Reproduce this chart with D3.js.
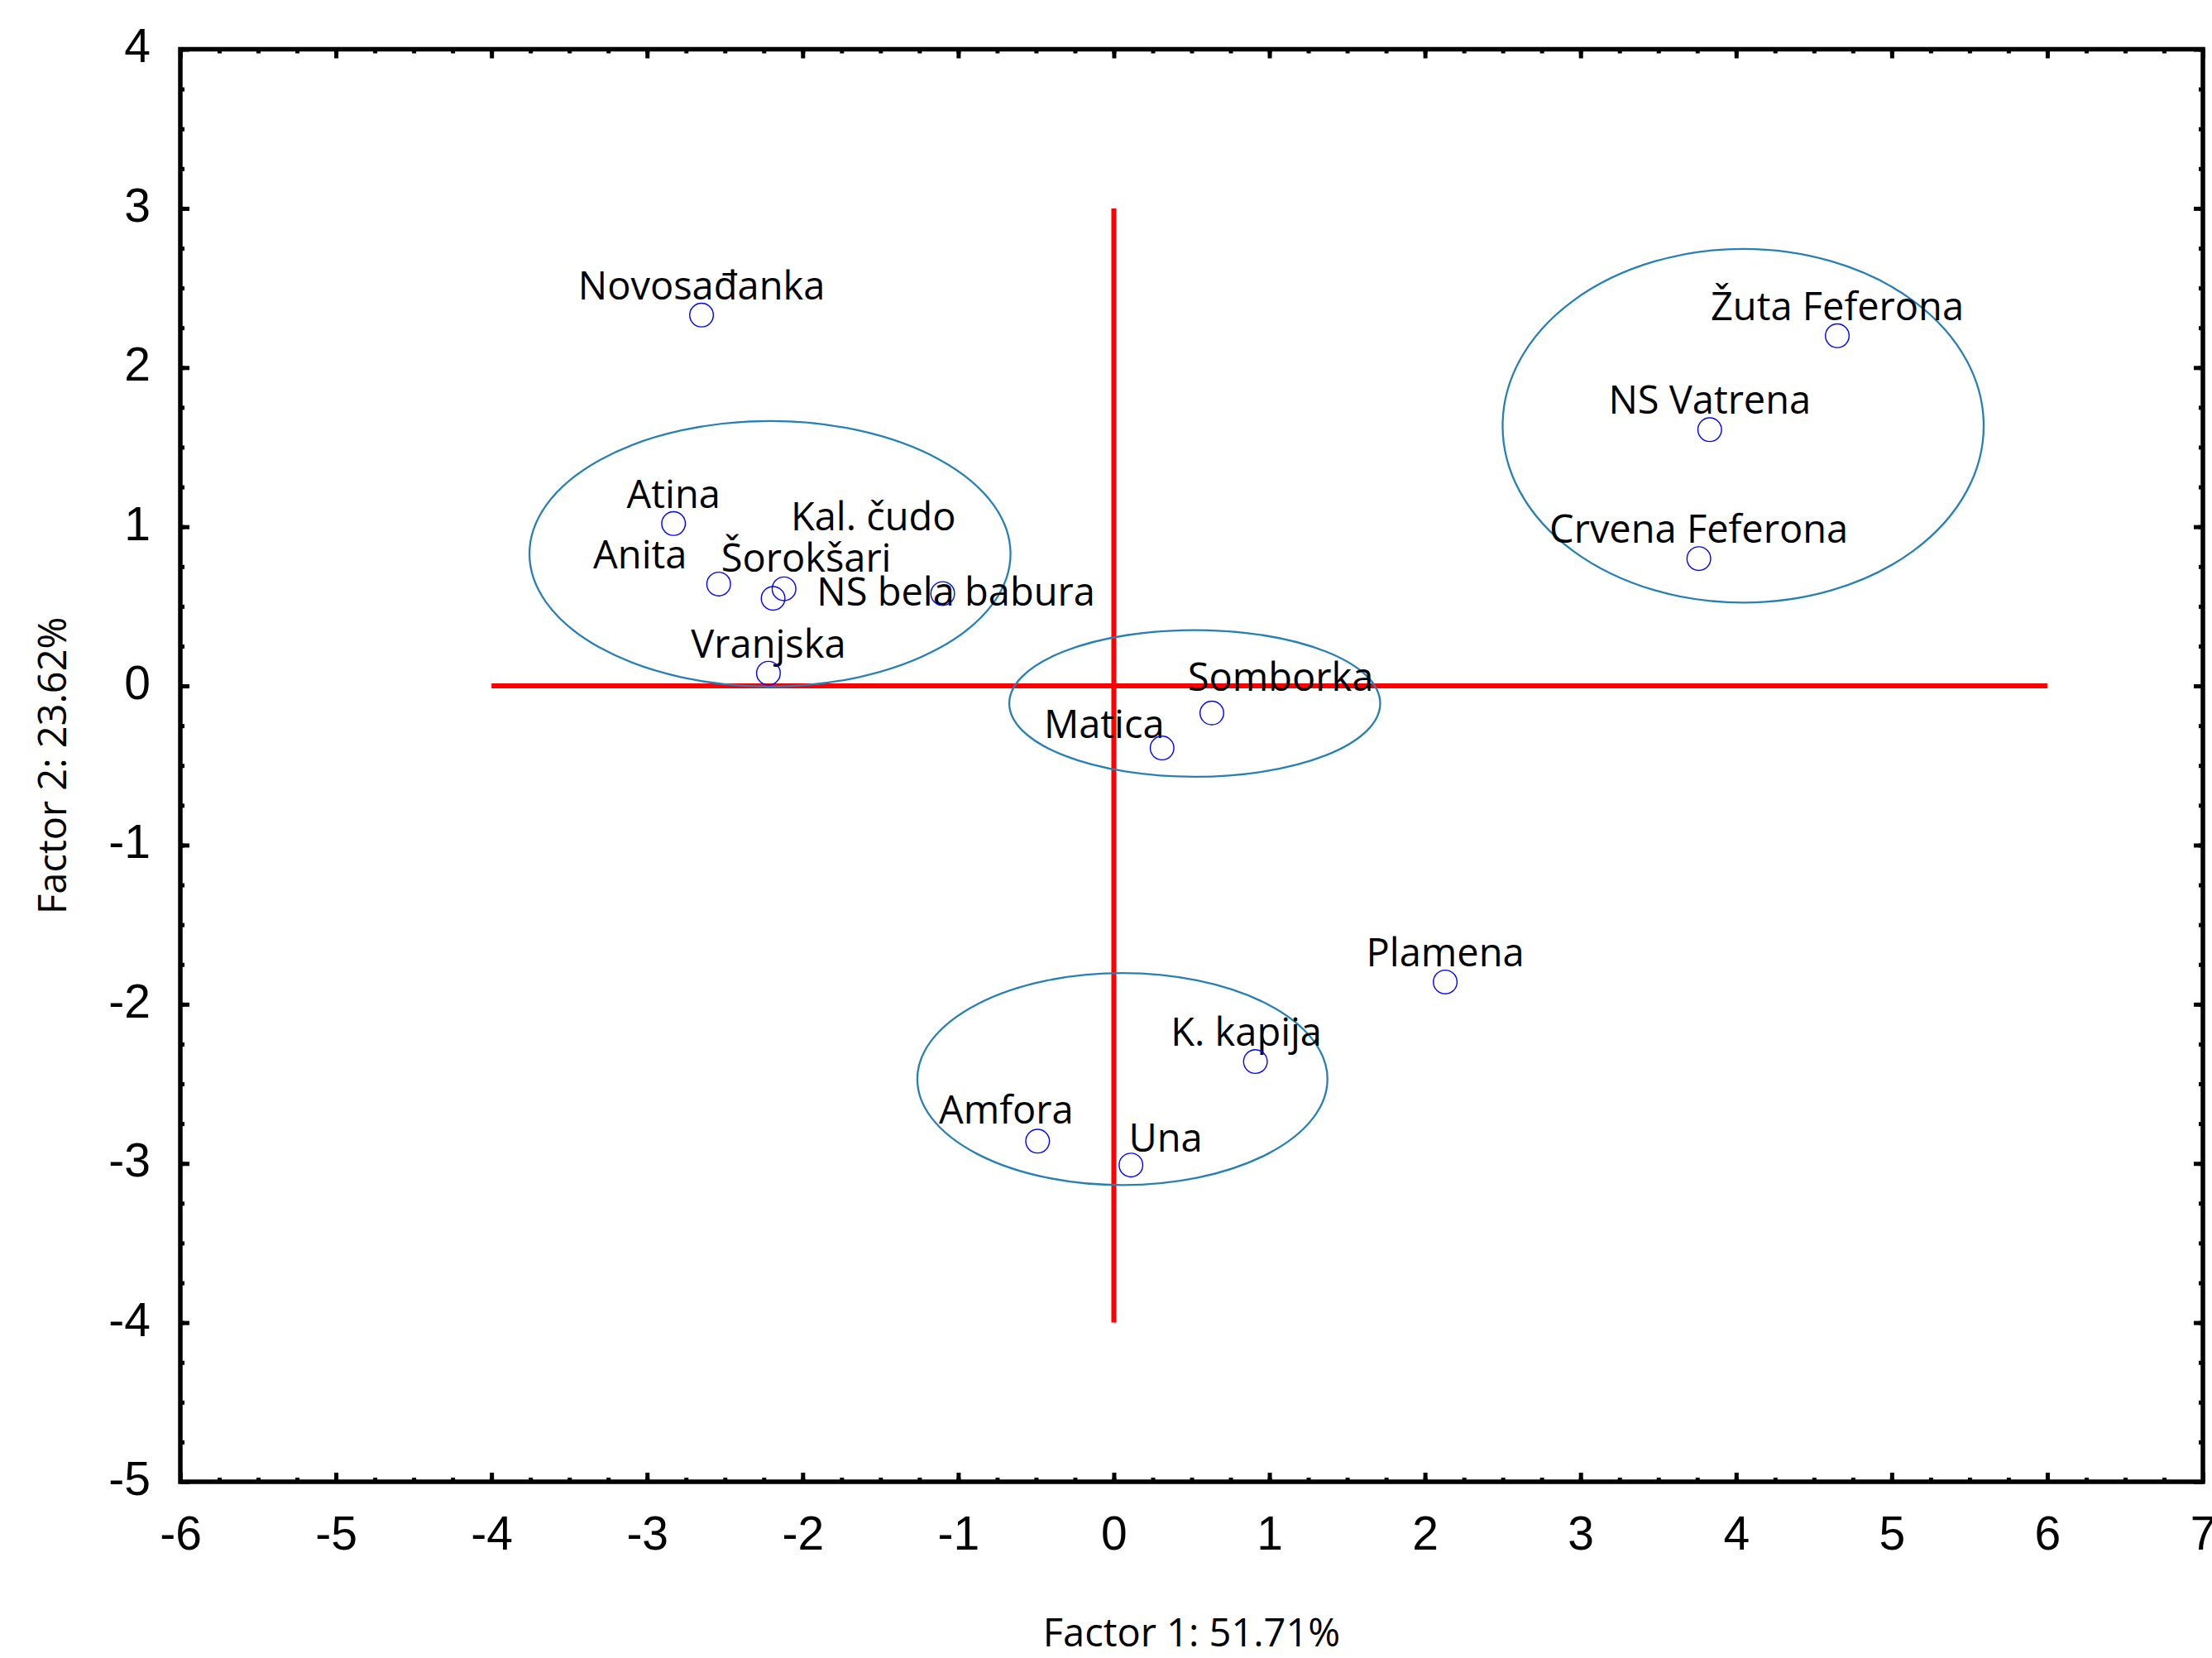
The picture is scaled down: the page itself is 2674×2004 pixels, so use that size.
<!DOCTYPE html>
<meta charset="utf-8">
<script src="https://cdn.jsdelivr.net/npm/d3@7"></script>
<style>
	body{margin:0;background:#fff;}
	.tick text{font-family:"Liberation Sans",Arial,sans-serif;font-size:57px;fill:#000;}
	.lbl{font-family:"Open Sans",sans-serif;font-size:47px;fill:#000;}
</style>
<div id='chart'></div>
<script>
// PCA scores, factor 1 vs factor 2
var cultivars = ["Novosađanka","Atina","Anita","Kal. čudo","Šorokšari","NS bela babura","Vranjska",
	"Somborka","Matica","Plamena","K. kapija","Amfora","Una","Žuta Feferona","NS Vatrena","Crvena Feferona"]
var factor1 = [-2.65,-2.83,-2.54,-2.12,-2.19,-1.10,-2.22, 0.63, 0.31, 2.13, 0.91,-0.49, 0.11, 4.65, 3.83, 3.76]
var factor2 = [ 2.33, 1.02, 0.64, 0.61, 0.55, 0.58, 0.08,-0.17,-0.39,-1.86,-2.36,-2.86,-3.01, 2.20, 1.61, 0.80]

// group ellipses (centre and half axes, in factor units)
var groupCx = [-2.21, 0.52, 0.055, 4.045]
var groupCy = [0.83, -0.11, -2.47, 1.634]
var groupRx = [1.546, 1.192, 1.318, 1.546]
var groupRy = [0.834, 0.461, 0.666, 1.111]

var xTicks = d3.range(-6,8)
var yTicks = d3.range(-5,5)
var xTitle = "Factor 1: 51.71%"
var yTitle = "Factor 2: 23.62%"

var width = 2674
var height = 2004

// label nudges in px (labels moved by hand in the original)
var nudge = {"Anita":[-95,0],"Kal. čudo":[108,-52],"Šorokšari":[40,-13],"NS bela babura":[16,34],
	"Somborka":[83,-8],"Matica":[-70,7],"K. kapija":[-11,0],"Amfora":[-38,-2],"Una":[42,3]}

var svg = d3.select("#chart").append("svg")
	.attr("width",width)
	.attr("height",height)

var xScale = d3.scaleLinear().domain([-6,7]).range([218,2663])
var yScale = d3.scaleLinear().domain([-5,4]).range([1791,59.5])
var L = xScale.range()[0], R = xScale.range()[1], B = yScale.range()[0], T = yScale.range()[1]

function minorTicks(ext){ return d3.range(ext[0],ext[1]+0.001,0.25) }
// plain hyphen for negatives, like the original
function plain(d){ return String(d) }

// major + minor ticks on all four sides, pointing inward
function ticks(axis, scale, major, pos, transform){
	svg.append("g").attr("transform",transform)
		.call(axis(scale).tickValues(minorTicks(scale.domain())).tickSize(-5).tickFormat(""))
	var g = svg.append("g").attr("transform",transform)
		.call(axis(scale).tickValues(major).tickSize(-11).tickPadding(pos).tickFormat(pos ? plain : ""))
	return g
}
ticks(d3.axisBottom, xScale, xTicks, 42, "translate(0,"+B+")")
ticks(d3.axisTop, xScale, xTicks, 0, "translate(0,"+T+")")
var yl = ticks(d3.axisLeft, yScale, yTicks, 36, "translate("+L+",0)")
ticks(d3.axisRight, yScale, yTicks, 0, "translate("+R+",0)")
yl.selectAll("text").attr("dy","0.27em")
svg.selectAll(".domain").remove()
svg.selectAll(".tick line").attr("stroke","#000").attr("stroke-width",5)

svg.append("rect")
	.attr("x",L).attr("y",T)
	.attr("width",R-L).attr("height",B-T)
	.attr("fill","none").attr("stroke","#000").attr("stroke-width",5.5)

// red reference axes
svg.append("line")
	.attr("x1",xScale(-4)).attr("x2",xScale(6))
	.attr("y1",yScale(0)).attr("y2",yScale(0))
	.attr("stroke","#ff0000").attr("stroke-width",6)
svg.append("line")
	.attr("x1",xScale(0)).attr("x2",xScale(0))
	.attr("y1",yScale(3)).attr("y2",yScale(-4))
	.attr("stroke","#ff0000").attr("stroke-width",6)

svg.append("g").selectAll("ellipse")
	.data(groupCx)
	.enter()
	.append("ellipse")
	.attr("cx",function(d){ return xScale(d) })
	.attr("cy",function(d,i){ return yScale(groupCy[i]) })
	.attr("rx",function(d,i){ return xScale(d+groupRx[i])-xScale(d) })
	.attr("ry",function(d,i){ return yScale(groupCy[i]-groupRy[i])-yScale(groupCy[i]) })
	.attr("fill","none")
	.attr("stroke","#2780b5")
	.attr("stroke-width",2.3)

svg.append("g").selectAll("text")
	.data(cultivars)
	.enter()
	.append("text")
	.attr("class","lbl")
	.attr("text-anchor","middle")
	.attr("x",function(d,i){ return xScale(factor1[i]) + (nudge[d] ? nudge[d][0] : 0) })
	.attr("y",function(d,i){ return yScale(factor2[i]) - 19 + (nudge[d] ? nudge[d][1] : 0) })
	.text(function(d){ return d })

svg.append("g").selectAll("circle")
	.data(cultivars)
	.enter()
	.append("circle")
	.attr("cx",function(d,i){ return xScale(factor1[i]) })
	.attr("cy",function(d,i){ return yScale(factor2[i]) })
	.attr("r",14.3)
	.attr("fill","none")
	.attr("stroke","#0000ff")
	.attr("stroke-width",1.4)

svg.append("text")
	.attr("class","lbl")
	.attr("text-anchor","middle")
	.attr("x",(L+R)/2)
	.attr("y",1990)
	.text(xTitle)

svg.append("text")
	.attr("class","lbl")
	.attr("text-anchor","middle")
	.attr("transform","translate(80,"+((T+B)/2)+") rotate(-90)")
	.text(yTitle)
</script>
